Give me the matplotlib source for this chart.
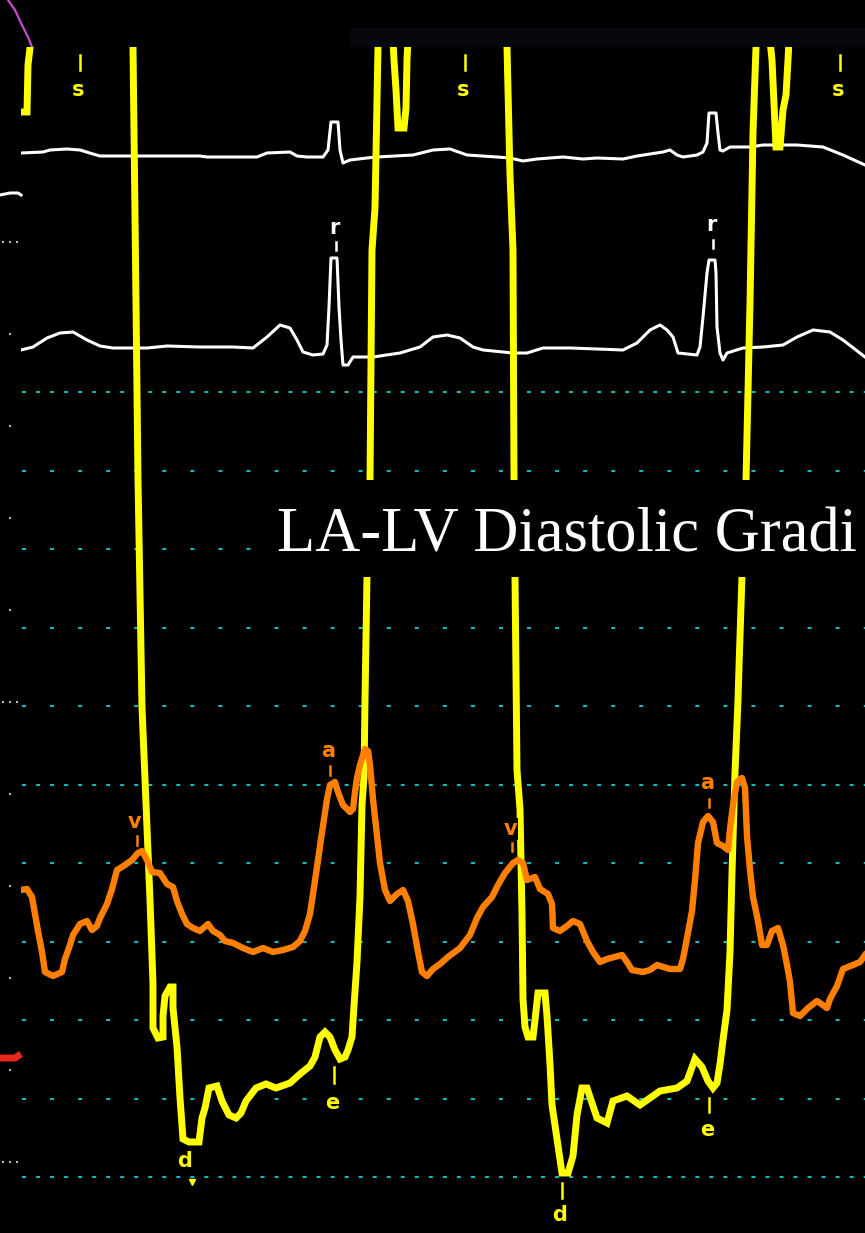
import matplotlib
matplotlib.use("Agg")
import matplotlib.pyplot as plt
from matplotlib.patches import Rectangle

# screen-space traces of the cath lab recording (x = sweep position, y = screen row)

# top ECG lead
ecg1_x = [21, 43, 50, 67, 80, 93, 100, 133, 200, 207, 233, 257, 267, 290, 297, 307, 323, 328, 331,
          338, 340, 343, 350, 367, 377, 413, 433, 450, 467, 497, 510, 523, 537, 563, 583, 597, 623,
          637, 663, 670, 677, 683, 697, 703, 707, 709, 716, 718, 720, 723, 730, 750, 763, 797, 823,
          843, 865]
ecg1_y = [153, 152, 150, 149, 150, 154, 156, 156, 156, 157, 157, 157, 153, 152, 156, 157, 157, 150, 122,
          122, 150, 163, 160, 158, 157, 155, 150, 149, 155, 157, 158, 161, 159, 157, 159, 158, 159,
          156, 152, 150, 155, 157, 155, 152, 143, 113, 113, 133, 150, 151, 147, 147, 145, 145, 147,
          155, 165]

# second ECG lead
ecg2_x = [21, 33, 47, 60, 73, 87, 100, 113, 147, 167, 200, 233, 253, 267, 280, 290, 297, 303, 313,
          323, 327, 329, 331, 337, 339, 341, 343, 348, 353, 373, 400, 420, 433, 447, 460, 473, 483,
          513, 527, 543, 570, 597, 623, 637, 650, 660, 667, 673, 678, 697, 700, 703, 707, 709, 715,
          716, 717, 720, 723, 727, 743, 763, 783, 797, 813, 830, 843, 865]
ecg2_y = [350, 347, 338, 333, 332, 340, 346, 348, 348, 346, 347, 347, 348, 337, 325, 328, 340, 352, 355,
          354, 345, 307, 258, 258, 307, 340, 365, 365, 357, 357, 353, 347, 337, 335, 338, 347, 350,
          353, 353, 348, 348, 349, 350, 343, 330, 325, 330, 337, 353, 355, 347, 317, 273, 260, 260,
          273, 327, 353, 360, 353, 348, 347, 345, 337, 330, 332, 340, 357]

# LV pressure (goes off scale above row 47 during systole)
lv_x = [21, 27, 28, 30, 32, 131, 133, 135, 138, 142, 146, 150, 153, 153, 158, 163, 163, 165, 170,
        173, 173, 177, 180, 183, 189, 199, 202, 205, 209, 217, 222, 229, 236, 241, 246, 256, 266,
        276, 290, 300, 310, 315, 320, 325, 330, 335, 340, 345, 348, 352, 354, 357, 360, 362, 364,
        365, 367, 370, 372, 375, 378, 380, 392, 394, 396, 398, 404, 406, 407, 409, 505, 507, 510,
        513, 514, 517, 520, 522, 523, 525, 528, 533, 535, 538, 545, 547, 550, 552, 557, 562, 568,
        573, 577, 582, 587, 597, 607, 613, 627, 640, 650, 660, 677, 687, 695, 702, 708, 713, 717,
        720, 723, 727, 730, 732, 735, 738, 739, 742, 746, 750, 753, 756, 758, 768, 772, 776, 780,
        783, 786, 788, 790, 865]
lv_y = [112, 112, 65, 48, 20, 20, 47, 215, 480, 707, 803, 900, 984, 1028, 1038, 1037, 1016, 996, 987,
        987, 1008, 1047, 1098, 1139, 1142, 1142, 1118, 1108, 1088, 1086, 1101, 1115, 1118, 1113, 1101,
        1088, 1084, 1088, 1083, 1074, 1066, 1057, 1037, 1032, 1037, 1050, 1059, 1057, 1050, 1037,
        1006, 962, 897, 805, 777, 700, 576, 480, 250, 208, 47, 20, 20, 60, 90, 128, 128, 108, 60,
        20, 20, 47, 175, 250, 480, 770, 809, 914, 999, 1027, 1037, 1037, 1020, 993, 993, 1016, 1064,
        1105, 1139, 1173, 1173, 1156, 1115, 1088, 1088, 1118, 1123, 1101, 1096, 1105, 1098, 1091,
        1088, 1081, 1059, 1067, 1081, 1088, 1083, 1064, 1040, 1010, 952, 873, 773, 700, 667, 576,
        480, 303, 133, 47, 20, 20, 60, 147, 147, 110, 95, 60, 20, 20]

# LA pressure
la_x = [21, 27, 32, 35, 38, 42, 45, 53, 62, 65, 70, 73, 80, 87, 92, 97, 100, 107, 112, 117, 125, 132,
        138, 142, 147, 152, 160, 167, 173, 177, 182, 187, 193, 200, 208, 213, 220, 225, 233, 243,
        253, 263, 273, 283, 293, 300, 305, 310, 313, 317, 320, 323, 327, 330, 335, 338, 343, 350,
        353, 355, 357, 360, 365, 368, 370, 373, 377, 380, 385, 390, 397, 403, 408, 413, 418, 422,
        427, 433, 440, 448, 460, 470, 477, 483, 492, 498, 505, 513, 518, 523, 527, 535, 540, 548,
        552, 553, 560, 567, 573, 580, 587, 593, 600, 607, 622, 627, 632, 643, 650, 657, 670, 680,
        683, 687, 692, 695, 698, 703, 708, 713, 717, 723, 728, 730, 733, 737, 742, 745, 747, 750,
        753, 758, 762, 767, 772, 778, 783, 787, 790, 793, 800, 808, 817, 827, 830, 837, 843, 853,
        860, 865]
la_y = [890, 889, 897, 914, 931, 952, 972, 976, 972, 959, 945, 935, 924, 921, 930, 926, 918, 904, 889,
        870, 865, 860, 853, 851, 860, 872, 873, 884, 887, 901, 914, 924, 928, 931, 924, 931, 935,
        941, 943, 948, 952, 948, 952, 950, 947, 941, 931, 914, 894, 867, 846, 826, 799, 785, 782,
        792, 805, 812, 809, 792, 778, 765, 749, 751, 765, 799, 836, 863, 890, 901, 894, 890, 901,
        924, 952, 972, 976, 969, 964, 957, 948, 935, 918, 907, 897, 885, 873, 863, 860, 863, 880,
        877, 889, 894, 904, 928, 931, 926, 921, 924, 941, 952, 962, 959, 955, 962, 970, 972, 970,
        965, 969, 969, 959, 938, 911, 880, 843, 822, 816, 822, 843, 846, 850, 829, 805, 782, 778,
        788, 836, 870, 897, 921, 945, 945, 931, 928, 945, 965, 982, 1013, 1016, 1008, 1001, 1008,
        999, 986, 969, 965, 962, 955]

# short stubs of other channels left of the sweep
stub_white_x = [0, 10, 18, 21]
stub_white_y = [195, 193, 193, 195]
stub_red_x = [0, 15, 21]
stub_red_y = [1058, 1058, 1054]
magenta_x = [8, 15, 22, 28, 32]
magenta_y = [0, 10, 25, 37, 47]

# cyan scale lines (every 5th one is a major)
grid_rows = [392 + 78.5 * k for k in range(11)]
grid_major = [k % 5 == 0 for k in range(11)]

# left hand scale dots
scale_rows = [242 + 92 * k for k in range(11)]

# event tags: (text, x, y, colour, tick top, tick bottom)
tags = [
    ("s", 78, 90, "#ffff00", 55, 70),
    ("s", 463, 90, "#ffff00", 55, 70),
    ("s", 838, 90, "#ffff00", 55, 70),
    ("r", 334, 228, "white", 242, 250),
    ("r", 711, 225, "white", 240, 248),
    ("v", 135, 822, "#ff8000", 836, 845),
    ("v", 510, 829, "#ff8000", 843, 851),
    ("a", 328, 751, "#ff8000", 766, 775),
    ("a", 707, 783, "#ff8000", 799, 807),
    ("e", 332, 1103, "#ffff00", 1067, 1083),
    ("e", 707, 1130, "#ffff00", 1098, 1112),
    ("d", 185, 1161, "#ffff00", None, None),
    ("d", 560, 1215, "#ffff00", 1183, 1198),
]

title = "LA-LV Diastolic Gradi"

plt.rcParams["lines.scale_dashes"] = False

fig = plt.figure(figsize=(8.65, 12.33), dpi=100, facecolor="black")
ax = fig.add_axes([0, 0, 1, 1])
ax.set_facecolor("black")
ax.set_xlim(0, 865)
ax.set_ylim(1233, 0)
ax.axis("off")

# the sweep area; traces are clipped to it
sweep = Rectangle((21, 47), 844, 1186, transform=ax.transData, facecolor="none", edgecolor="none")
ax.add_patch(sweep)

# faint header strip
ax.add_patch(Rectangle((350, 28), 515, 19, facecolor="#05070d", edgecolor="none", zorder=0))

for row, major in zip(grid_rows, grid_major):
    ax.plot([22, 865], [row, row], color="#14b8b8", lw=1.5,
            dashes=(2.9, 7.2) if major else (2.9, 17.3), zorder=1)

for i, row in enumerate(scale_rows):
    xs = [3, 10, 17] if i % 5 == 0 else [10]
    ax.scatter(xs, [row] * len(xs), s=3, marker="s", color="#bbbbbb", lw=0, zorder=2)

ax.plot(stub_white_x, stub_white_y, color="white", lw=2.2, zorder=2)
ax.plot(stub_red_x, stub_red_y, color="#e8281a", lw=5, solid_capstyle="butt", zorder=2)
ax.plot(magenta_x, magenta_y, color="#c84ccc", lw=1.6, zorder=2)

for xs, ys in [(ecg1_x, ecg1_y), (ecg2_x, ecg2_y)]:
    ln, = ax.plot(xs, ys, color="white", lw=2.2, zorder=3)
    ln.set_clip_path(sweep)

lv, = ax.plot(lv_x, lv_y, color="#ffff00", lw=5, zorder=4, solid_joinstyle="miter")
lv.set_clip_path(sweep)

la, = ax.plot(la_x, la_y, color="#ff8000", lw=4.6, zorder=5)
la.set_clip_path(sweep)

for text, x, y, col, t0, t1 in tags:
    box = dict(facecolor="black", edgecolor="none", pad=1) if text == "v" else None
    ax.text(x, y, text, color=col, fontsize=15, fontweight="bold", family="DejaVu Sans",
            ha="center", va="center", zorder=7, bbox=box)
    if t0 is not None:
        ax.plot([x + 2, x + 2], [t0, t1], color=col, lw=1.8, zorder=7)
ax.plot([192], [1182], marker="v", color="#ffff00", ms=5, zorder=7)

# title panel punches a hole in the traces
ax.add_patch(Rectangle((268, 480), 600, 97, facecolor="black", edgecolor="none", zorder=8))
ax.text(277, 552, title, color="white", fontsize=45,
        family="Liberation Serif", ha="left", va="baseline", zorder=9)

fig.savefig("out.png", dpi=100, facecolor="black")
